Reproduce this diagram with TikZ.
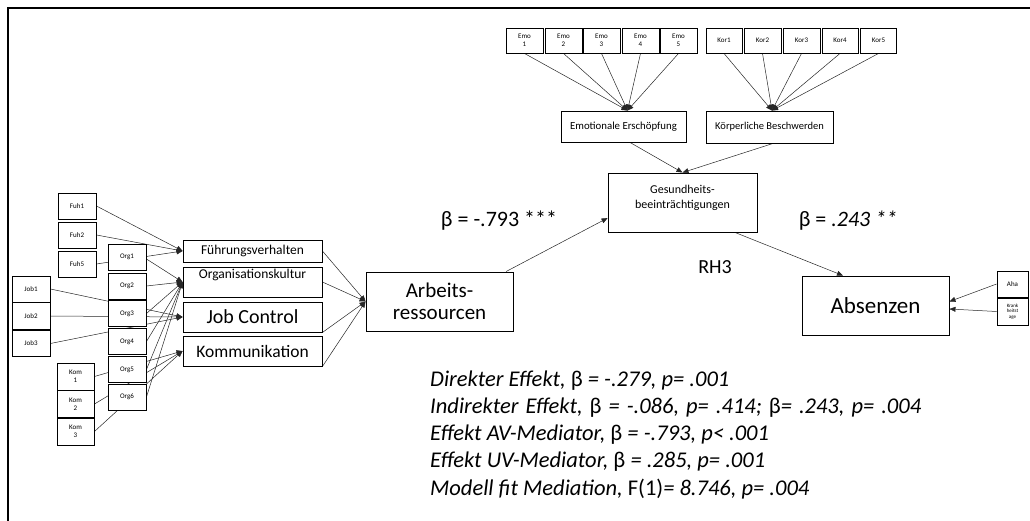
\documentclass[tikz,border=0pt]{standalone}
\usepackage{fontspec}
\setmainfont{Carlito}
\usetikzlibrary{arrows.meta,calc}
\pgfdeclarelayer{bg}
\pgfsetlayers{bg,main}
\newcommand{\fs}[2]{\fontsize{#1}{#2}\selectfont}

\begin{document}
\begin{tikzpicture}[x=1pt,y=-1pt,
  box/.style={draw, line width=0.9pt, fill=white, inner sep=0pt, align=center},
  ind/.style={box, font=\fs{7}{8}},
  big/.style={box, font=\fs{13.5}{15}},
  lnk/.style={draw=black!85, line width=0.5pt, -{Triangle[length=6pt,width=5pt]}},
  res/.style={font=\fs{22.5}{27}, anchor=west, inner sep=0pt},
]
\useasboundingbox (0,0) rectangle (1030,521);

% frame
\draw[line width=1.6pt] (8,521) -- (8,8) -- (1030,8);

% manifest indicators, left block
\node[ind, minimum width=38, minimum height=26] (fuh1) at (77,206) {Fuh1};
\node[ind, minimum width=38, minimum height=26] (fuh2) at (77,235) {Fuh2};
\node[ind, minimum width=38, minimum height=26] (fuh5) at (77,264) {Fuh5};
\node[ind, minimum width=38, minimum height=26] (org1) at (127,257) {Org1};
\node[ind, minimum width=38, minimum height=26] (org2) at (127,286) {Org2};
\node[ind, minimum width=38, minimum height=26] (org3) at (127,313.5) {Org3};
\node[ind, minimum width=38, minimum height=26] (org4) at (127,341.5) {Org4};
\node[ind, minimum width=38, minimum height=26] (org5) at (127,369.5) {Org5};
\node[ind, minimum width=38, minimum height=26] (org6) at (127,397) {Org6};
\node[ind, minimum width=38, minimum height=26] (job1) at (31,289) {Job1};
\node[ind, minimum width=38, minimum height=27] (job2) at (31,316) {Job2};
\node[ind, minimum width=38, minimum height=26] (job3) at (31,343.5) {Job3};
\node[ind, minimum width=37, minimum height=27] (kom1) at (75.5,376.5) {Kom\\1};
\node[ind, minimum width=37, minimum height=27] (kom2) at (75.5,404) {Kom\\2};
\node[ind, minimum width=37, minimum height=27] (kom3) at (75.5,431.5) {Kom\\3};

% first-order factors
\node[big, minimum width=139, minimum height=22] (fv) at (252.5,251) {Führungsverhalten};
\node[big, minimum width=139, minimum height=30, text height=12, text depth=18] (ok) at (252.5,282) {Organisationskultur};
\node[box, font=\fs{20}{22}, minimum width=139, minimum height=30] (jc) at (252.5,317) {Job Control};
\node[box, font=\fs{17.5}{19}, minimum width=139, minimum height=30] (ko) at (252.5,351) {Kommunikation};

% second-order factor and outcomes
\node[box, font=\fs{21}{22}, minimum width=147, minimum height=59] (ar) at (439.5,301.5) {Arbeits-\\ressourcen};
\node[box, font=\fs{12}{15}, minimum width=149, minimum height=59] (gb) at (682.5,202.5) {Gesundheits-\\beeinträchtigungen\\[-3pt]};
\node[box, font=\fs{23}{24}, minimum width=147, minimum height=59] (abs) at (875.5,305.5) {Absenzen};

% health indicators
\node[box, font=\fs{10.8}{12}, minimum width=125, minimum height=31] (ee) at (623.5,126.5) {Emotionale Erschöpfung};
\node[box, font=\fs{10.5}{12}, minimum width=127, minimum height=32] (kb) at (769.5,127) {Körperliche Beschwerden};
\node[ind, minimum width=37, minimum height=25] (emo1) at (524.5,40.5) {Emo\\1};
\node[ind, minimum width=37, minimum height=25] (emo2) at (563.5,40.5) {Emo\\2};
\node[ind, minimum width=37, minimum height=25] (emo3) at (601.5,40.5) {Emo\\3};
\node[ind, minimum width=37, minimum height=25] (emo4) at (640.5,40.5) {Emo\\4};
\node[ind, minimum width=37, minimum height=25] (emo5) at (678.5,40.5) {Emo\\5};
\node[ind, minimum width=36, minimum height=25] (kor1) at (724,40.5) {Kor1};
\node[ind, minimum width=37, minimum height=25] (kor2) at (762.5,40.5) {Kor2};
\node[ind, minimum width=37, minimum height=25] (kor3) at (801.5,40.5) {Kor3};
\node[ind, minimum width=36, minimum height=25] (kor4) at (840,40.5) {Kor4};
\node[ind, minimum width=36, minimum height=25] (kor5) at (878.5,40.5) {Kor5};

% absence indicators
\node[ind, minimum width=31, minimum height=26] (aha) at (1012.5,284) {Aha};
\node[box, font=\fs{5}{5.5}, minimum width=31, minimum height=27] (kt) at (1012.5,311.5) {Krank\\heitst\\age};

% coefficients
\node[font=\fs{22}{24}] (b1) at (499,221) {β = -.793 ***};
\node[font=\fs{22}{24}] (b2) at (848,221) {β = \textit{.243 **}};
\node[font=\fs{20}{22}] (rh) at (715,267) {RH3};

% mediation results
\node[res] (r1) at (430,381) {\textit{Direkter Effekt,} β \textit{= -.279, p= .001}};
\node[res] (r2) at (430,408) {\spaceskip=7pt\relax\textit{Indirekter Effekt,} β \textit{= -.086, p= .414;} β\textit{= .243, p= .004}};
\node[res] (r3) at (430,435) {\textit{Effekt AV-Mediator,} β \textit{= -.793, p< .001}};
\node[res] (r4) at (430,462) {\textit{Effekt UV-Mediator,} β \textit{= .285, p= .001}};
\node[res] (r5) at (430,489) {\textit{Modell fit Mediation,} F(1)\textit{= 8.746, p= .004}};

% loadings, drawn beneath the boxes
\begin{pgfonlayer}{bg}
  \draw[lnk] (fuh1.east) -- (fv.west);
  \draw[lnk] (fuh2.east) -- (fv.west);
  \draw[lnk] (fuh5.east) -- (fv.west);
  \draw[lnk] ($(org1.east)+(0,2)$) -- (ok.west);
  \draw[lnk] (org2.east) -- (ok.west);
  \draw[lnk] (org3.east) -- (ok.west);
  \draw[lnk] (org4.east) -- (ok.west);
  \draw[lnk] (org5.east) -- (ok.west);
  \draw[lnk] (org6.east) -- (ok.west);
  \draw[lnk] (job1.east) -- (jc.west);
  \draw[lnk] (job2.east) -- (jc.west);
  \draw[lnk] (job3.east) -- (jc.west);
  \draw[lnk] (kom1.east) -- (ko.west);
  \draw[lnk] (kom2.east) -- (ko.west);
  \draw[lnk] (kom3.east) -- (ko.west);
  \draw[lnk] (fv.east) -- (ar.west);
  \draw[lnk] (ok.east) -- (ar.west);
  \draw[lnk] (jc.south east) -- (ar.west);
  \draw[lnk] (ko.south east) -- (ar.west);
  \foreach \i in {1,...,5} {
    \draw[lnk] (emo\i.south) -- ($(ee.north)+(4,0)$);
    \draw[lnk] (kor\i.south) -- ($(kb.north)+(2.5,0)$);
  }
  \draw[lnk] ($(ee.south)+(6.5,0)$) -- (gb.north);
  \draw[lnk] ($(kb.south)+(3.5,0)$) -- (gb.north);
  \draw[lnk] ($(ar.north west)!0.95!(ar.north east)$) -- ($(gb.north west)!0.76!(gb.south west)$);
  \draw[lnk] ($(gb.south)!0.7!(gb.south east)$) -- ($(abs.north west)!0.28!(abs.north east)$);
  \draw[lnk] (aha.west) -- ($(abs.east)+(0,-4)$);
  \draw[lnk] (kt.west) -- ($(abs.east)+(0,3.5)$);
\end{pgfonlayer}
\end{tikzpicture}
\end{document}
